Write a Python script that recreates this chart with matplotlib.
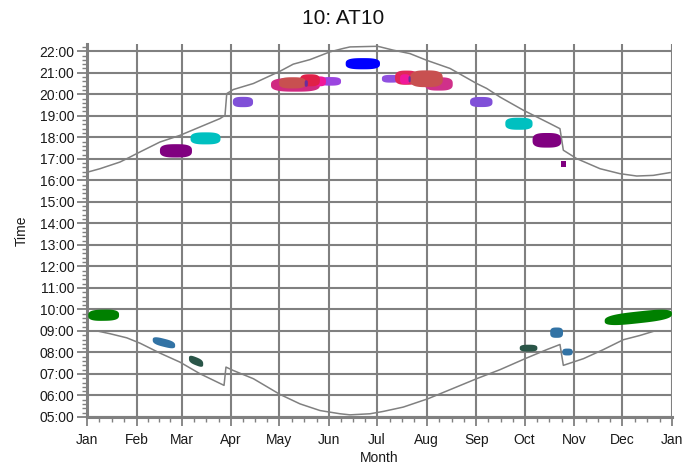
import numpy as np
import matplotlib
matplotlib.use("Agg")
import matplotlib.pyplot as plt

plt.rcParams['font.family'] = ['Liberation Sans', 'DejaVu Sans']

# ---- data ----
month_labels = ['Jan', 'Feb', 'Mar', 'Apr', 'May', 'Jun', 'Jul', 'Aug',
                'Sep', 'Oct', 'Nov', 'Dec', 'Jan']
month_starts = [0, 31, 59, 90, 120, 151, 181, 212, 243, 273, 304, 334, 365]
hour_ticks = list(range(5, 23))

sunset_day = [0.8, 8.1, 20.6, 26.8, 33.1, 45.5, 58.0, 70.5, 83.0, 86.1, 87.2,
              91.3, 103.8, 120.4, 128.7, 139.1, 151.6, 159.9, 164.1, 181.4,
              191.1, 201.5, 211.9, 226.5, 243.1, 249.4, 257.7, 272.2, 288.8,
              295.1, 297.2, 305.5, 320.1, 332.5, 343.0, 353.3, 363.8]
sunset_hour = [16.39, 16.54, 16.85, 17.08, 17.32, 17.78, 18.09, 18.48, 18.87,
               19.02, 20.03, 20.22, 20.50, 21.07, 21.40, 21.61, 21.97, 22.13,
               22.20, 22.23, 22.05, 21.89, 21.58, 21.20, 20.50, 20.27, 19.87,
               19.26, 18.64, 18.40, 17.40, 17.01, 16.54, 16.31, 16.20, 16.23,
               16.36]

sunrise_day = [7.5, 14.4, 24.8, 33.1, 45.5, 58.0, 70.5, 85.5, 86.7, 91.3,
               103.8, 120.4, 132.9, 145.4, 157.9, 164.1, 176.6, 184.9, 197.3,
               212.8, 226.5, 243.1, 257.7, 273.3, 286.8, 295.1, 297.2, 309.7,
               322.1, 334.6, 345.0, 353.8]
sunrise_hour = [8.98, 8.87, 8.68, 8.43, 7.97, 7.55, 7.01, 6.47, 7.32, 7.16,
                6.78, 6.05, 5.61, 5.30, 5.15, 5.10, 5.15, 5.26, 5.46, 5.85,
                6.27, 6.78, 7.20, 7.71, 8.13, 8.37, 7.40, 7.71, 8.13, 8.59,
                8.79, 8.99]

# activity clusters: start day, end day, centre hour at start, centre hour at end, height (h), colour
blob_start = [45.5, 64.6, 91.0,
              114.8, 145.3, 140.4, 132.9, 119.8, 135.8,
              161.4,
              210.9, 184.0, 192.2, 195.3, 201.5, 200.6,
              239.0, 261.0, 278.0,
              0.8, 41.0, 63.6, 270.0, 289.0, 296.6, 323.0]
blob_end = [65.5, 83.3, 103.6,
            145.3, 158.5, 149.1, 145.3, 136.6, 137.8,
            182.8,
            228.2, 195.3, 206.5, 201.5, 222.0, 202.0,
            253.0, 278.0, 296.0,
            20.0, 55.0, 72.5, 281.0, 297.0, 303.0, 365.0]
blob_h0 = [17.37, 17.95, 19.64,
           20.44, 20.60, 20.60, 20.65, 20.53, 20.50,
           21.42,
           20.48, 20.72, 20.77, 20.70, 20.72, 20.70,
           19.64, 18.63, 17.86,
           9.72, 8.58, 7.72, 8.20, 8.92, 8.02, 9.46]
blob_h1 = [17.37, 17.95, 19.64,
           20.44, 20.60, 20.60, 20.65, 20.53, 20.50,
           21.42,
           20.48, 20.72, 20.77, 20.70, 20.72, 20.70,
           19.64, 18.63, 17.86,
           9.74, 8.32, 7.46, 8.20, 8.92, 8.02, 9.80]
blob_height = [0.62, 0.56, 0.48,
               0.64, 0.40, 0.46, 0.56, 0.52, 0.30,
               0.52,
               0.62, 0.36, 0.66, 0.46, 0.78, 0.28,
               0.47, 0.56, 0.68,
               0.52, 0.38, 0.38, 0.32, 0.48, 0.32,
               0.55]
blob_color = ['#800080', '#00C0C0', '#8050D8',
              '#D02A80', '#9B45E0', '#F0189A', '#E02048', '#C85050', '#6A2C9C',
              '#0000FF',
              '#D0308A', '#9050E0', '#E02858', '#F0189A', '#C85050', '#6A2C9C',
              '#8050D8', '#00C0C0', '#800080',
              '#008000', '#3273A5', '#2A5548', '#2A5548', '#3273A5', '#3273A5',
              '#008000']

spot_day = [296.0, 298.6]
spot_hour = [16.62, 16.88]
spot_color = '#800080'

# ---- figure ----
fig = plt.figure(figsize=(6.99, 4.68), dpi=100)
ax = fig.add_axes([87 / 699, 1 - 417 / 468, (672 - 87) / 699, (417 - 43.7) / 468])

grey = '#808080'
ax.set_xlim(0, 365)
ax.set_ylim(5, 22.35)

ax.set_xticks(month_starts)
ax.set_xticklabels(month_labels)
minor_x = []
for a, b in zip(month_starts[:-1], month_starts[1:]):
    minor_x += [a + (b - a) * k / 4 for k in (1, 2, 3)]
ax.set_xticks(minor_x, minor=True)

ax.set_yticks(hour_ticks)
ax.set_yticklabels([f"{h:02d}:00" for h in hour_ticks])
ax.set_yticks([h + k / 5 for h in hour_ticks[:-1] for k in (1, 2, 3, 4)] +
              [22.2], minor=True)

ax.grid(True, which='major', color=grey, linewidth=1.5, zorder=0)
ax.set_axisbelow(True)
for s in ('top', 'right'):
    ax.spines[s].set_visible(False)
for s in ('left', 'bottom'):
    ax.spines[s].set_color(grey)
    ax.spines[s].set_linewidth(2.2)

ax.tick_params(axis='both', which='major', direction='out', color=grey,
               width=1.3, labelsize=10, labelcolor='#1a1a1a')
ax.tick_params(axis='y', which='major', length=7, pad=2)
ax.tick_params(axis='x', which='major', length=6.5, pad=5)
ax.tick_params(axis='y', which='minor', direction='out', color=grey, width=1, length=3.5)
ax.tick_params(axis='x', which='minor', direction='out', color=grey, width=1, length=3.5)

# clusters drawn as blocky rounded shapes
t = np.linspace(0, 2 * np.pi, 160)
n = 3.0
ct = np.sign(np.cos(t)) * np.abs(np.cos(t)) ** (2 / n)
st = np.sign(np.sin(t)) * np.abs(np.sin(t)) ** (2 / n)
for d0, d1, h0, h1, hh, c in zip(blob_start, blob_end, blob_h0, blob_h1,
                                 blob_height, blob_color):
    cx = (d0 + d1) / 2
    a = (d1 - d0) / 2
    xs = cx + a * ct
    frac = (xs - d0) / (d1 - d0)
    ys = h0 + (h1 - h0) * frac + hh / 2 * st
    ax.fill(xs, ys, color=c, linewidth=0, zorder=3)

ax.fill([spot_day[0], spot_day[1], spot_day[1], spot_day[0]],
        [spot_hour[0], spot_hour[0], spot_hour[1], spot_hour[1]],
        color=spot_color, linewidth=0, zorder=3)

ax.plot(sunset_day, sunset_hour, color=grey, linewidth=1.1, zorder=4)
ax.plot(sunrise_day, sunrise_hour, color=grey, linewidth=1.1, zorder=4)

ax.set_xlabel('Month', fontsize=10, color='#1a1a1a', labelpad=3)
ax.set_ylabel('Time', fontsize=10, color='#1a1a1a', labelpad=8)

fig.suptitle('10: AT10', x=0.491, y=1 - 18 / 468, va='center', fontsize=15,
             color='#111111')

fig.savefig('out.png', dpi=100)
